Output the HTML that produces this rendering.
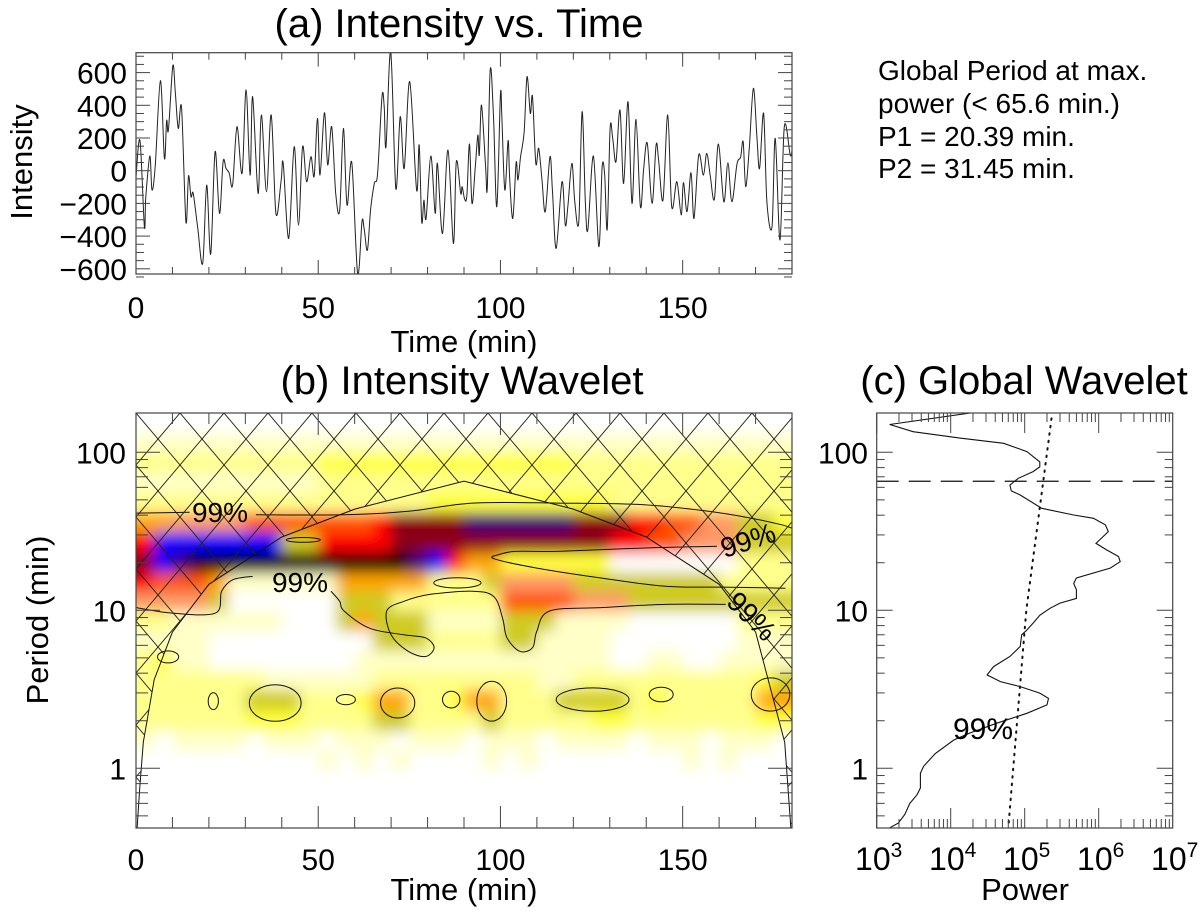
<!DOCTYPE html>
<html><head><meta charset="utf-8"><style>
html,body{margin:0;padding:0;background:#fff;width:1200px;height:917px;overflow:hidden;}
svg{display:block;overflow:hidden;font-family:"Liberation Sans",sans-serif;}
</style></head><body>
<svg id="fig" width="1200" height="917" viewBox="0 0 1200 917" xmlns="http://www.w3.org/2000/svg">
<defs>
<clipPath id="clipA"><rect x="136" y="52.7" width="656" height="221.3"/></clipPath>
<clipPath id="clipB"><rect x="136" y="413" width="656" height="415"/></clipPath>
<clipPath id="clipC"><rect x="876.7" y="413" width="296" height="415"/></clipPath>
<clipPath id="clipHatch"><polygon id="hatchPoly" points=""/></clipPath>
<filter id="blurF" filterUnits="userSpaceOnUse" x="90" y="370" width="760" height="500"><feGaussianBlur stdDeviation="7"/></filter>
<pattern id="hatch" patternUnits="userSpaceOnUse" x="136" y="413" width="44" height="52">
<line x1="0" y1="0" x2="44" y2="52" stroke="#222" stroke-width="0.9"/>
<line x1="44" y1="0" x2="0" y2="52" stroke="#222" stroke-width="0.9"/>
</pattern>
</defs>
<g id="layerB"></g>
<g id="layerA"></g>
<g id="layerC"></g>
<text x="459" y="37" font-size="40" text-anchor="middle">(a) Intensity vs. Time</text>
<text x="462" y="394" font-size="40" text-anchor="middle">(b) Intensity Wavelet</text>
<text x="1024" y="394" font-size="40" text-anchor="middle">(c) Global Wavelet</text>
<g font-size="28">
<text x="878" y="80">Global Period at max.</text>
<text x="878" y="113">power (&lt; 65.6 min.)</text>
<text x="878" y="146">P1 = 20.39 min.</text>
<text x="878" y="178">P2 = 31.45 min.</text>
</g>
<text transform="translate(32,162) rotate(-90)" font-size="31" text-anchor="middle">Intensity</text>
<text x="464" y="352" font-size="31" text-anchor="middle">Time (min)</text>
<text transform="translate(48,620) rotate(-90)" font-size="31" text-anchor="middle">Period (min)</text>
<text x="464" y="900" font-size="31" text-anchor="middle">Time (min)</text>
<text x="1025" y="900" font-size="31" text-anchor="middle">Power</text>
</svg>
<script>
// ---------- Panel (a) data ----------
const intensityTimes = [0.0,1.1,2.3,2.7,3.8,4.4,5.3,6.7,7.8,8.4,8.9,10.1,10.8,11.6,12.5,13.7,14.4,15.1,15.7,16.9,18.3,19.4,20.5,21.7,22.9,23.9,24.7,25.6,26.5,27.7,29.1,30.2,31.3,32.0,33.5,34.4,35.8,37.1,38.4,39.8,40.4,41.9,43.4,44.6,45.7,46.8,48.0,48.9,49.8,50.5,51.7,52.6,53.7,54.8,55.9,56.9,57.9,59.2,60.8,62.0,62.6,63.5,64.4,65.4,66.3,67.5,68.1,68.6,69.9,71.3,72.5,73.6,75.1,77.0,77.7,78.4,79.0,79.6,80.9,82.1,82.7,84.1,85.6,87.1,87.9,89.1,
89.5,90.2,90.8,91.5,92.2,93.1,93.8,94.2,94.8,95.9,96.4,97.2,98.1,99.0,100.0,100.4,101.2,102.1,102.5,103.4,104.3,104.8,105.5,106.5,107.3,108.2,108.8,109.7,110.5,111.4,112.3,113.6,114.3,115.3,116.9,117.8,118.5,119.6,120.4,121.5,122.4,123.3,124.0,125.5,127.0,127.9,128.6,129.3,130.1,130.8,131.7,132.8,133.8,135.0,136.1,137.2,138.4,139.3,140.3,141.6,142.7,143.4,144.6,145.9,147.0,148.4,149.6,150.2,151.2,152.3,153.1,154.4,155.7,156.6,157.6,158.7,159.8,161.3,162.4,163.5,164.9,165.9,166.6,167.3,168.3,169.4,170.4,171.1,172.2,173.1,174.5,175.4,176.7,177.9,179.5,180.0];
const intensityValues = [-37,184,-343,-159,90,-118,35,551,75,306,249,641,473,259,381,-312,-33,-159,-139,-343,-567,-88,-510,116,-261,55,14,-16,-88,269,-16,494,-27,453,-139,341,-129,341,-261,-67,45,-414,147,-333,147,-67,86,-33,320,-27,355,35,269,-139,-241,259,-210,49,-628,-312,-353,-486,-231,-78,-16,453,392,147,728,-108,330,14,545,-118,157,-312,-180,-292,90,-261,45,-384,126,-445,55,-139,
-98,-175,-149,163,-200,24,218,96,402,35,-102,616,330,-220,463,320,-118,184,-37,-292,49,-57,82,233,575,351,453,45,137,-57,-251,86,-139,-475,-67,-333,-216,45,-190,-312,361,-200,-359,90,-465,20,-27,-359,259,198,55,371,-78,422,-200,314,-220,14,167,-200,157,65,-180,341,-220,-67,-271,-73,-251,-12,-292,96,-27,106,-37,-175,163,-190,49,-190,41,82,177,-98,147,504,198,14,351,-190,-343,198,-424,269,96,126];
const aYTicks = [-600,-400,-200,0,200,400,600];
const aXTicks = [0,50,100,150];

// ---------- Panel (b) data ----------
const gridTimes = [0,5,10,15,20,25,30,35,40,45,50,55,60,65,70,75,80,85,90,95,100,105,110,115,120,125,130,135,140,145,150,155,160,165,170,175,180];
const gridPeriods = [151,115,85,65,48,36,27,20,15,11.5,8.5,6.5,4.8,3.6,2.7,2.0,1.5,1.15,0.85,0.65,0.48];
const gridLevels = [
"000000000000000000000000000000000000",
"111111111111111111111111111111111111",
"222222222233333333333333222222222222",
"111111111122222222222222222222222222",
"222222222222222233333333332222222222",
"556666777777789999bbbbbb999887766443",
"8aaaaaaa4488889999999999998877666444",
"9abccccccccccccba85533333300000002222",
"877751111115555522246666444444442222",
"666640000004442222227777666444444444",
"221111110004544411114441111000000222",
"111100000000044422224411110000000111",
"231100000000111111111111110011001111",
"222222211111122222222211222222222234",
"222222444222355223552224444232222255",
"222222333222244222242222233222222233",
"101111011101110111011101111011101110",
"000000000010101000010100000000101000",
"000000000000000000000000000000000000",
"000000000000000000000000000000000000",
"000000000000000000000000000000000000"];
const levelColors = ["#ffffff","#ffffc8","#ffff8c","#ffff3c","#cfcb20","#ffa500","#ff9966","#ff5500","#ff0000","#8b0018","#0000ff","#40007a","#000000"];
const coiTimes = [0.27,1,2,5,10,20,40,60,90,120,140,160,170,178,179.73];
const coiPeriods = [0.2,0.73,1.46,3.64,7.28,14.6,29.1,43.7,65.6,43.7,29.1,14.6,7.28,1.46,0.2];
const contourLines = [
 [[0,41.2],[14.7,41.7]],
 [[32.9,40.2],[57.1,40.2],[74.7,42.3],[92.4,47.7],[115.9,47.7],[139.4,46.6],[157.1,42.3],[168.8,38.3],[177.1,34.8],[180,33.1]],
 [[99.4,22.5],[104.1,23.6],[115.9,23.6],[139.4,24.8],[159.4,25.4]],
 [[0,10.4],[10,9.6],[21.8,9.6],[23.5,13.2],[26.5,15.6],[32,16.4]],
 [[53.5,13.2],[55.9,11.4],[57.1,9.9],[64.1,7.7],[73.5,7.0],[79.4,6.7],[81.8,5.8],[79.4,5.1],[74.7,5.5],[70.0,7.0],[68.8,9.9],[73.5,11.4],[80.6,12.6],[92.4,13.2],[98.2,12.2],[100.6,8.9],[101.8,6.7],[105.3,5.5],[108.8,5.8],[110.0,7.4],[113.5,9.9],[127.6,10.4],[145.3,10.9],[161.8,10.9]],
 [[99.4,22.5],[98.2,21.2],[110.0,18.5],[127.6,16.0],[145.3,14.2],[162.9,14.0],[178.2,13.8]]
];
const islandTimes = [88.2,45.9,38.2,21.2,57.6,71.8,86.5,97.6,125.3,144.1,174.1,8.8];
const islandPeriods = [14.9,27.9,2.59,2.66,2.72,2.59,2.72,2.66,2.72,2.93,2.93,5.07];
const islandWidths = [6.5,4.7,7.1,1.4,2.6,4.7,2.4,4.1,10,3.3,5.3,2.9];
const islandHeights = [0.032,0.015,0.116,0.053,0.032,0.095,0.053,0.126,0.074,0.046,0.105,0.038];
const bYTicks = [1,10,100];
const bXTicks = [0,50,100,150];

// ---------- Panel (c) data ----------
const globalPeriods = [177,150,135,123,114,101,87,81,75.5,68.5,62,57,53.7,44.2,40.1,38.2,34.7,31.5,26.5,24.1,21.9,20.3,18.5,16.0,14.8,13.5,11.9,11.1,10.3,9.3,8.3,7.5,7.0,5.9,5.1,4.4,3.9,3.54,3.29,2.99,2.77,2.52,2.23,1.93,1.67,1.51,1.24,1.03,0.93,0.75,0.68,0.60,0.51,0.45,0.42];
const globalPower = [1.8e4,1.5e3,3.1e3,1.33e4,5.2e4,1.07e5,1.6e5,1.6e5,1.3e5,8.2e4,6.3e4,6.6e4,8.7e4,1.7e5,4.6e5,8.5e5,1.23e6,1.35e6,9.2e5,1.28e6,1.85e6,1.95e6,1.43e6,5.0e5,4.6e5,5.0e5,5.0e5,3.0e5,2.2e5,1.6e5,1.3e5,1.07e5,9.1e4,8.7e4,6.3e4,3.8e4,3.1e4,4.7e4,8.7e4,1.6e5,2.1e5,2.0e5,1.07e5,4.2e4,1.8e4,1.1e4,6.2e3,4.3e3,3.9e3,3.9e3,3.5e3,2.8e3,2.4e3,1.96e3,1.5e3];
const signifPeriods = [164,10,0.42];
const signifPower = [2.3e5,1.05e5,6.0e4];
const cutoffPeriod = [65.6];
const cXTicks = [3,4,5,6,7];

// ---------- scales ----------
const NS = "http://www.w3.org/2000/svg";
const xA = t => 136 + t * (656/180);
const yA = v => 170.7 - v * 0.1635;
const xB = xA;
const yB = p => 452.3 - (Math.log10(p) - 2) * 158;
const xC = pw => 876.7 + (Math.log10(pw) - 3) * 74;
const yC = yB;
function mk(tag, attrs, parent){const e=document.createElementNS(NS,tag);for(const k in attrs)e.setAttribute(k,attrs[k]);parent.appendChild(e);return e;}
function smoothPath(pts){
 let d='M'+pts[0][0].toFixed(1)+','+pts[0][1].toFixed(1);
 for(let i=0;i<pts.length-1;i++){
  const p0=pts[Math.max(0,i-1)],p1=pts[i],p2=pts[i+1],p3=pts[Math.min(pts.length-1,i+2)];
  const c1x=p1[0]+(p2[0]-p0[0])/6,c1y=p1[1]+(p2[1]-p0[1])/6;
  const c2x=p2[0]-(p3[0]-p1[0])/6,c2y=p2[1]-(p3[1]-p1[1])/6;
  d+='C'+c1x.toFixed(1)+','+c1y.toFixed(1)+' '+c2x.toFixed(1)+','+c2y.toFixed(1)+' '+p2[0].toFixed(1)+','+p2[1].toFixed(1);
 }
 return d;
}

const LA=document.getElementById('layerA'), LB=document.getElementById('layerB'), LC=document.getElementById('layerC');

// ---------- Panel a ----------
{
 const pts = intensityTimes.map((t,i)=>[xA(t),yA(intensityValues[i])]);
 const ln = mk('path',{d:smoothPath(pts),fill:'none',stroke:'#222','stroke-width':1,'clip-path':'url(#clipA)'},LA);
 
 
 const box = mk('rect',{x:136,y:52.7,width:656,height:221.3,fill:'none',stroke:'#444','stroke-width':1.2},LA);
 
 
 for(let v=-650; v<=700; v+=50){
  const y=yA(v); const L=(v%200===0)?14:8;
  mk('line',{x1:136,y1:y,x2:136+L,y2:y,stroke:'#444'},LA);
  mk('line',{x1:792,y1:y,x2:792-L,y2:y,stroke:'#444'},LA);
 }
 for(let t=0;t<=180;t+=10){
  const x=xA(t); const L=(t%50===0)?14:7;
  mk('line',{x1:x,y1:274,x2:x,y2:274-L,stroke:'#444'},LA);
  mk('line',{x1:x,y1:52.7,x2:x,y2:52.7+L,stroke:'#444'},LA);
 }
 aYTicks.forEach(v=>{
  const tx=mk('text',{x:127,y:yA(v)+11,'font-size':30,'text-anchor':'end'},LA);
  tx.textContent=(v<0?'\u2212':'')+Math.abs(v);
  
  
 });
 aXTicks.forEach(t=>{
  const tx=mk('text',{x:xA(t),y:318,'font-size':30,'text-anchor':'middle'},LA);
  tx.textContent=t;
  
  
 });
}

// ---------- Panel b ----------
{
 const gcells = mk('g',{'clip-path':'url(#clipB)'},LB);
 
 
 const inner = mk('g',{filter:'url(#blurF)'},gcells);
 mk('rect',{x:100,y:380,width:740,height:480,fill:'#fff'},inner);
 const logs = gridPeriods.map(p=>Math.log10(p));
 for(let r=0;r<gridPeriods.length;r++){
  const top = r===0 ? logs[0]+0.2 : (logs[r-1]+logs[r])/2;
  const bot = r===gridPeriods.length-1 ? logs[r]-0.2 : (logs[r]+logs[r+1])/2;
  const y1=yB(Math.pow(10,top)), y2=yB(Math.pow(10,bot));
  for(let c=0;c<gridTimes.length-1;c++){
   const lv=parseInt(gridLevels[r][c]||'0',16);
   if(!lv) continue;
   let x1=xB(gridTimes[c]), x2=xB(gridTimes[c+1]);
   if(c===0) x1-=20; if(c===gridTimes.length-2) x2+=20;
   const cell=mk('rect',{x:x1.toFixed(1),y:y1.toFixed(1),width:(x2-x1+0.6).toFixed(1),height:(y2-y1+0.6).toFixed(1),fill:levelColors[lv]},inner);
   
   
  }
 }
 const gcont = mk('g',{'clip-path':'url(#clipB)',fill:'none',stroke:'#111','stroke-width':1},LB);
 
 
 contourLines.forEach(line=>{
  const pts=line.map(p=>[xB(p[0]),yB(p[1])]);
  const pth=mk('path',{d:smoothPath(pts)},gcont);
  
  
 });
 islandTimes.forEach((t,i)=>{
  const cx=xB(t), cy=yB(islandPeriods[i]);
  const rx=islandWidths[i]*656/180, ry=islandHeights[i]*158;
  const el=mk('ellipse',{cx:cx.toFixed(1),cy:cy.toFixed(1),rx:rx.toFixed(1),ry:ry.toFixed(1)},gcont);
  
  
 });
 const coiD = coiTimes.map((t,i)=>(i?'L':'M')+xB(t).toFixed(1)+','+Math.min(830,yB(coiPeriods[i])).toFixed(1)).join('');
 const coi=mk('path',{d:coiD,fill:'none',stroke:'#111','stroke-width':1,'clip-path':'url(#clipB)'},LB);
 
 
 let poly = '136,413 136,830 ' + coiTimes.map((t,i)=>xB(t).toFixed(1)+','+Math.min(830,yB(coiPeriods[i])).toFixed(1)).join(' ') + ' 792,830 792,413';
 document.getElementById('hatchPoly').setAttribute('points',poly);
 const hg=mk('g',{'clip-path':'url(#clipB)'},LB);
 const hr=mk('rect',{x:136,y:413,width:656,height:415,fill:'url(#hatch)','clip-path':'url(#clipHatch)'},hg);
 
 
 [[220,522,0],[300,592,0],[748,550,-18],[752,626,45]].forEach(l=>{
  const tx=mk('text',{x:l[0],y:l[1],'font-size':28,'text-anchor':'middle',transform:`rotate(${l[2]} ${l[0]} ${l[1]-10})`},LB);
  tx.textContent='99%';
  
  
 });
 const box=mk('rect',{x:136,y:413,width:656,height:415,fill:'none',stroke:'#444','stroke-width':1.2},LB);
 
 
 for(let e=-1;e<=2;e++){for(let m=1;m<=9;m++){
  const p=m*Math.pow(10,e); const y=yB(p); if(y<413||y>828) continue;
  const L=(m===1)?24:12;
  mk('line',{x1:136,y1:y,x2:136+L,y2:y,stroke:'#444'},LB);
  mk('line',{x1:792,y1:y,x2:792-L,y2:y,stroke:'#444'},LB);
 }}
 for(let t=0;t<=180;t+=10){
  const x=xB(t); const L=(t%50===0)?22:11;
  mk('line',{x1:x,y1:828,x2:x,y2:828-L,stroke:'#444'},LB);
  mk('line',{x1:x,y1:413,x2:x,y2:413+L,stroke:'#444'},LB);
 }
 bYTicks.forEach(p=>{
  const tx=mk('text',{x:126,y:yB(p)+11,'font-size':30,'text-anchor':'end'},LB);
  tx.textContent=p;
  
  
 });
 bXTicks.forEach(t=>{
  const tx=mk('text',{x:xB(t),y:870,'font-size':30,'text-anchor':'middle'},LB);
  tx.textContent=t;
  
  
 });
}

// ---------- Panel c ----------
{
 const g=mk('g',{'clip-path':'url(#clipC)'},LC);
 const d=globalPeriods.map((p,i)=>(i?'L':'M')+xC(globalPower[i]).toFixed(1)+','+yC(p).toFixed(1)).join('');
 const ln=mk('path',{d:d,fill:'none',stroke:'#111','stroke-width':1.1},g);
 
 
 const ds=signifPeriods.map((p,i)=>(i?'L':'M')+xC(signifPower[i]).toFixed(1)+','+yC(p).toFixed(1)).join('');
 const sl=mk('path',{d:ds,fill:'none',stroke:'#111','stroke-width':2,'stroke-dasharray':'1.5 6','stroke-linecap':'round'},g);
 
 
 const cy=yC(cutoffPeriod[0]);
 const cl=mk('line',{x1:876.7,y1:cy,x2:1172.7,y2:cy,stroke:'#111','stroke-width':1.3,'stroke-dasharray':'22 10'},g);
 
 
 const tx=mk('text',{x:983,y:739,'font-size':30,'text-anchor':'middle'},LC);
 tx.textContent='99%';
 
 
 const box=mk('rect',{x:876.7,y:413,width:296,height:415,fill:'none',stroke:'#444','stroke-width':1.2},LC);
 
 
 for(let e=-1;e<=2;e++){for(let m=1;m<=9;m++){
  const p=m*Math.pow(10,e); const y=yC(p); if(y<413||y>828) continue;
  const L=(m===1)?16:8;
  mk('line',{x1:876.7,y1:y,x2:876.7+L,y2:y,stroke:'#444'},LC);
  mk('line',{x1:1172.7,y1:y,x2:1172.7-L,y2:y,stroke:'#444'},LC);
 }}
 for(let e=3;e<7;e++){for(let m=1;m<=9;m++){
  const x=xC(m*Math.pow(10,e)); const L=(m===1)?20:9;
  mk('line',{x1:x,y1:828,x2:x,y2:828-L,stroke:'#444'},LC);
  mk('line',{x1:x,y1:413,x2:x,y2:413+L,stroke:'#444'},LC);
 }}
 [[yC(100),'100'],[yC(10),'10'],[yC(1),'1']].forEach(l=>{
  const t=mk('text',{x:868,y:l[0]+11,'font-size':30,'text-anchor':'end'},LC);
  t.textContent=l[1];
  
  
 });
 cXTicks.forEach(e=>{
  const t=mk('text',{x:xC(Math.pow(10,e))+2,y:870,'font-size':32,'text-anchor':'middle'},LC);
  
  
  const b=mk('tspan',{},t); b.textContent='10';
  const s=mk('tspan',{'font-size':21,dy:-13},t); s.textContent=e;
 });
}
</script>
</body></html>
